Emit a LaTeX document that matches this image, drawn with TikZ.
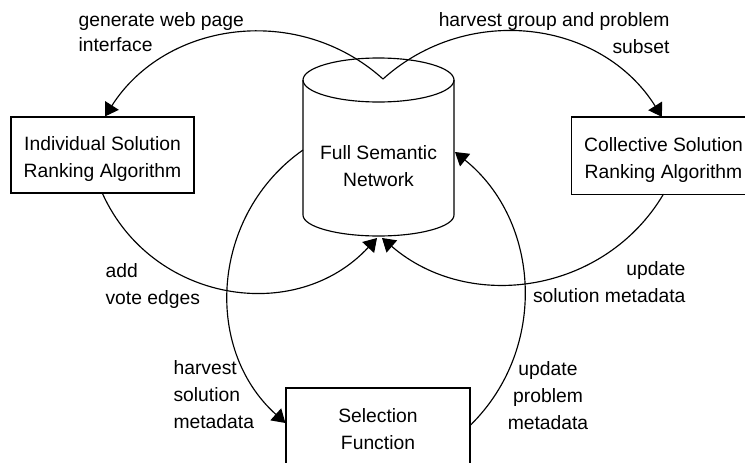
\documentclass[tikz,border=0pt]{standalone}
\usepackage{fontspec}
\setmainfont{Liberation Sans}
\usetikzlibrary{arrows.meta}
\newcommand\dgfont{\fontsize{19.3}{27}\selectfont}
\begin{document}
\begin{tikzpicture}[x=1pt,y=-1pt,line width=1.15pt,
  boxframe/.style={draw,minimum width=183pt,minimum height=76pt,inner sep=0pt},
  lab/.style={inner sep=0pt,font=\dgfont},
  arr/.style={-{Triangle[length=13pt,width=16pt]}}]
\fill[white] (0,0) rectangle (745,463);
\clip (0,0) rectangle (745,463);
% boxes
\node[boxframe] (ind) at (102.5,155) {};
\node[lab,align=center] (indt) at ([yshift=-4.5pt]ind.center) {Individual Solution\\Ranking Algorithm};
\node[inner sep=0pt,minimum width=183pt,minimum height=76pt] (col) at (663.5,155.5) {};
\draw (col.north west) -- ([xshift=20pt]col.north east) -- ([xshift=20pt]col.south east) -- (col.south west) -- cycle;
\node[lab,align=center] (colt) at ([yshift=-4.5pt]col.center) {Collective Solution\\Ranking Algorithm};
\node[boxframe,minimum width=184pt] (sel) at (378,426) {};
\node[lab,align=center] (selt) at ([yshift=-3pt]sel.center) {Selection\\Function};
% cylinder
\draw (303,80) -- (303,215) arc[start angle=180,end angle=0,x radius=75.5,y radius=21] -- (454,80);
\draw (378.5,80) ellipse[x radius=75.5,y radius=22];
\node[lab,align=center] (fsn) at (378.5,166) {Full Semantic\\Network};
\coordinate (ctop) at (383,79);
\coordinate (cbl) at (377,238);
\coordinate (cbr) at (382,238);
\coordinate (cl) at (303,150);
\coordinate (cr) at (455,152);
% connectors
\draw[arr] (ctop) .. controls +(-84.4,-76) and +(61.2,-95.8) .. ([xshift=2.5pt]ind.north);
\draw[arr] (ctop) .. controls +(85,-76.5) and +(-60.7,-96.9) .. ([xshift=-1.5pt]col.north);
\draw[arr] (ind.south) .. controls +(49.3,108.8) and +(-81.2,87.6) .. (cbl);
\draw[arr] (col.south) .. controls +(-58.7,99.3) and +(87.3,75.3) .. (cbr);
\draw[arr] (cl) .. controls +(-91.6,64.2) and +(-83.2,-74.9) .. ([yshift=3pt]sel.west);
\draw[arr] ([yshift=1pt]sel.east) .. controls +(77.9,-76.8) and +(85.2,68.6) .. (cr);
% labels
\node[lab,align=left,anchor=north west] (l1) at (78,12) {generate web page\\[-2pt]interface};
\node[lab,align=right,anchor=north east] (l2) at (670,12) {harvest group and problem\\subset};
\node[lab,align=left,anchor=north west] (l3) at (105,263) {add\\vote edges};
\node[lab,align=right,anchor=north east] (l4) at (686,261) {update\\solution metadata};
\node[lab,align=left,anchor=north west] (l5) at (173,360) {harvest\\solution\\metadata};
\node[lab,align=center,anchor=north] (l6) at (548,361) {update\\problem\\metadata};
\end{tikzpicture}
\end{document}
